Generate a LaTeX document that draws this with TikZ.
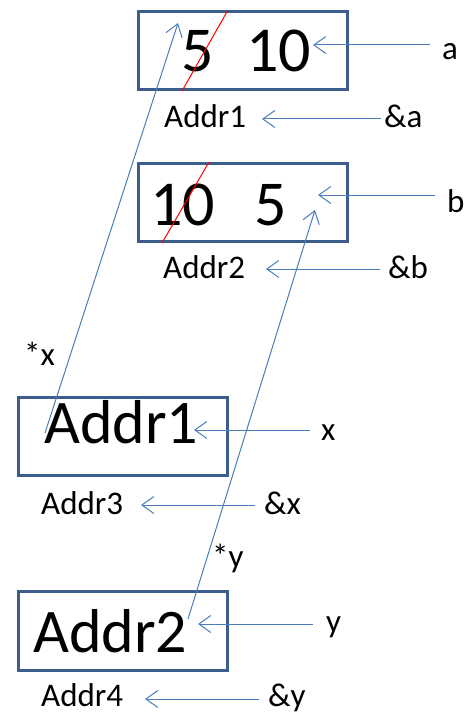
\documentclass[tikz,border=0pt]{standalone}
\usepackage{fontspec}
\setmainfont{Carlito}
\usetikzlibrary{arrows.meta,calc}
\definecolor{boxblue}{HTML}{3B5E8D}
\definecolor{arrblue}{HTML}{4A7EBB}
\begin{document}
\begin{tikzpicture}[x=1pt,y=1pt]
\tikzset{
  box/.style={draw=boxblue, line width=3pt, minimum width=209pt, minimum height=78pt, inner sep=0pt},
  ptr/.style={draw=arrblue, line width=1pt, -{Straight Barb[length=12pt,width=17pt,line width=1pt]}},
  lbl/.style={font=\fontsize{33}{39}\selectfont, inner sep=0pt, anchor=base west},
  big/.style={font=\fontsize{62}{70}\selectfont, inner sep=0pt, anchor=base west},
  num/.style={font=\fontsize{64}{72}\selectfont, inner sep=0pt, anchor=base west},
  cross/.style={draw=red, line width=1pt}
}
\useasboundingbox (0,0) rectangle (465,-714);
% boxes
\node[box] (boxa) at (242.5,-50.5) {};
\node[box] (boxb) at (243,-202.5) {};
\node[box] (boxx) at (123,-436.5) {};
\node[box, minimum height=79pt] (boxy) at (123,-631) {};
% values
\node[num] (a5) at (181,-72) {5};
\node[num] (a10) at (246,-72) {10};
\node[num] (b10) at (150,-225) {10};
\node[num] (b5) at (254,-225) {5};
\node[big] (xval) at (44,-443) {Addr1};
\node[big] (yval) at (33,-652) {Addr2};
% labels
\node[lbl] (la) at (442,-60) {a};
\node[lbl] (lb) at (447,-212) {b};
\node[lbl] (lx) at (321,-440) {x};
\node[lbl] (ly) at (326,-632) {y};
\node[lbl] (ada) at (384,-128) {\&a};
\node[lbl] (adb) at (388,-278) {\&b};
\node[lbl] (adx) at (264,-514) {\&x};
\node[lbl] (ady) at (268,-706) {\&y};
\node[lbl] (addr1) at (164,-128) {Addr1};
\node[lbl] (addr2) at (163,-278) {Addr2};
\node[lbl] (addr3) at (41,-514) {Addr3};
\node[lbl] (addr4) at (41,-706) {Addr4};
\node[lbl] (sx) at (24,-365) {*x};
\node[lbl] (sy) at (212,-567) {*y};
% crossing-out lines
\coordinate (ra1) at (182,-91);
\coordinate (ra2) at (228,-10);
\coordinate (rb1) at (162,-243);
\coordinate (rb2) at (209,-162);
\draw[cross] (ra1) -- (ra2);
\draw[cross] (rb1) -- (rb2);
% arrow tips
\coordinate (ta) at (313,-45);
\coordinate (tb) at (318,-195);
\coordinate (tx) at (194,-430);
\coordinate (ty) at (198,-624);
\coordinate (tada) at (262,-119);
\coordinate (tadb) at (266,-269);
\coordinate (tadx) at (141,-505);
\coordinate (tady) at (145,-699);
% horizontal arrows
\draw[ptr] (ta -| {430,0}) -- (ta);
\draw[ptr] (tb -| {435,0}) -- (tb);
\draw[ptr] (tx -| {310,0}) -- (tx);
\draw[ptr] (ty -| {313,0}) -- (ty);
\draw[ptr] (tada -| {381,0}) -- (tada);
\draw[ptr] (tadb -| {380,0}) -- (tadb);
\draw[ptr] (tadx -| {255,0}) -- (tadx);
\draw[ptr] (tady -| {259,0}) -- (tady);
% pointer arrows
\coordinate (px0) at (45,-433);
\coordinate (px1) at (178,-23);
\coordinate (py0) at (188,-619);
\coordinate (py1) at (315,-210);
\draw[ptr] (px0) -- (px1);
\draw[ptr] (py0) -- (py1);
\end{tikzpicture}
\end{document}
